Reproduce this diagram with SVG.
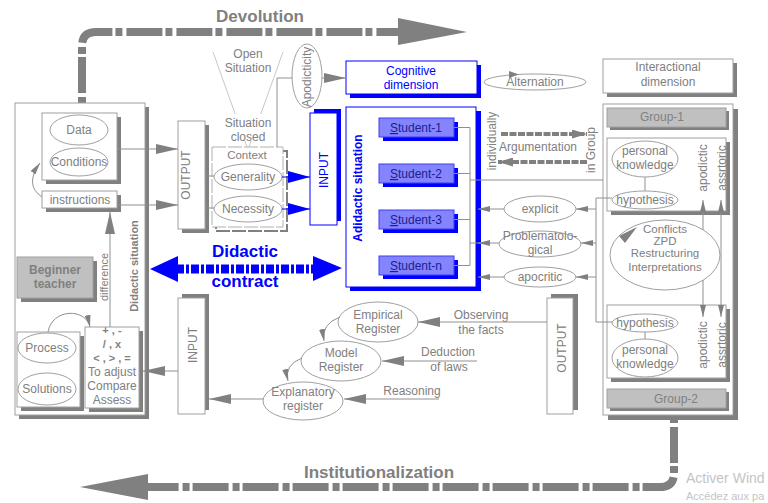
<svg xmlns="http://www.w3.org/2000/svg" width="768" height="503" viewBox="0 0 768 503">
<style>
text{font-family:"Liberation Sans",Arial,sans-serif;font-size:12px;fill:#808080;text-anchor:middle}
.b{font-weight:bold}
.f11{font-size:11px}
.f115{font-size:11.5px}
.f17{font-size:17px}
.bl{fill:#0000ff}
.st{fill:#20208a}
.bx{fill:#fff;stroke:#a0a0a0;stroke-width:1}
.bxb{fill:#fff;stroke:#0000ff;stroke-width:1}
.sh{fill:#808080}
.shb{fill:#0000ff}
.gr{fill:#c0c0c0;stroke:#a0a0a0}
.el{fill:#fff;stroke:#a0a0a0}
.ln{fill:none;stroke:#909090;stroke-width:1}
.lt{fill:none;stroke:#c8c8c8;stroke-width:1}
.big{fill:none;stroke:#808080;stroke-width:8;stroke-dasharray:36 3 7 4}
.stu{fill:#8484ff;stroke:#3c3cff}
.wm{fill:#c4c4c4;text-anchor:start}
</style>
<defs>
<marker id="ah" viewBox="0 0 22 10" refX="22" refY="5" markerWidth="22" markerHeight="10" orient="auto-start-reverse" markerUnits="userSpaceOnUse"><path d="M0,0 L22,5 L0,10z" fill="#808080"/></marker>
<marker id="as" viewBox="0 0 12 6" refX="12" refY="3" markerWidth="12" markerHeight="6" orient="auto-start-reverse" markerUnits="userSpaceOnUse"><path d="M0,0 L12,3 L0,6z" fill="#808080"/></marker>
<marker id="ad" viewBox="0 0 15 9" refX="15" refY="4.5" markerWidth="15" markerHeight="9" orient="auto" markerUnits="userSpaceOnUse"><path d="M0,0 L15,4.5 L0,9z" fill="#808080"/></marker>
<marker id="ab" viewBox="0 0 22 12" refX="22" refY="6" markerWidth="22" markerHeight="12" orient="auto" markerUnits="userSpaceOnUse"><path d="M0,0 L22,6 L0,12z" fill="#0000ff"/></marker>
</defs>

<g id="devolution">
<path d="M82,103 V46 Q82,32 96,32 H400" class="big" stroke-dashoffset="40"/>
<polygon points="398,18 467,32 398,45" fill="#808080"/>
<text x="260" y="22" class="b f17">Devolution</text>
</g>

<g id="institutionalization">
<path d="M674,419 V473 Q674,487 660,487 H146" class="big" stroke-dashoffset="42"/>
<polygon points="148,474 80,487 148,500" fill="#808080"/>
<text x="379" y="478" class="b f17">Institutionalization</text>
</g>

<g id="didactic-situation">
<rect x="19" y="107" width="130" height="312" class="sh"/>
<rect x="15" y="103" width="130" height="312" class="bx"/>
<text transform="translate(138,266) rotate(-90)" class="b f11">Didactic situation</text>
</g>

<g id="data-conditions">
<rect x="46" y="117" width="75" height="67" class="sh"/>
<rect x="42" y="113" width="75" height="67" class="bx"/>
<ellipse cx="79" cy="130" rx="29" ry="15" class="el"/>
<text x="79" y="134">Data</text>
<ellipse cx="79" cy="162" rx="29" ry="14" class="el"/>
<text x="79" y="166">Conditions</text>
</g>

<g id="instructions">
<rect x="46" y="195" width="75" height="17" class="sh"/>
<rect x="42" y="191" width="75" height="17" class="bx"/>
<text x="80" y="204">instructions</text>
</g>

<g id="beginner-teacher">
<rect x="21" y="261" width="76" height="41" class="sh"/>
<rect x="17" y="257" width="76" height="41" class="gr"/>
<text x="55" y="274" class="b">Beginner</text>
<text x="55" y="288" class="b">teacher</text>
</g>

<g id="process-solutions">
<rect x="21" y="336" width="63" height="75" class="sh"/>
<rect x="17" y="332" width="63" height="75" class="bx"/>
<ellipse cx="47" cy="348" rx="29" ry="15" class="el"/>
<text x="47" y="352">Process</text>
<ellipse cx="47" cy="389" rx="29" ry="16" class="el"/>
<text x="47" y="393">Solutions</text>
</g>

<g id="operations">
<rect x="89" y="331" width="54" height="81" class="sh"/>
<rect x="85" y="327" width="54" height="81" class="bx"/>
<text x="112" y="334" class="b f11">+ , -</text>
<text x="112" y="348" class="b f11">/ , x</text>
<text x="112" y="362" class="b f11">&lt; , &gt; , =</text>
<text x="112" y="376">To adjust</text>
<text x="112" y="390">Compare</text>
<text x="112" y="404">Assess</text>
</g>

<g id="output-left">
<rect x="182" y="125" width="27" height="108" class="sh"/>
<rect x="178" y="121" width="27" height="108" class="bx"/>
<text transform="translate(190,175) rotate(-90)">OUTPUT</text>
</g>

<g id="input-left">
<rect x="182" y="294" width="27" height="116" class="sh"/>
<rect x="178" y="298" width="27" height="116" class="bx"/>
<text transform="translate(197,345) rotate(-90)">INPUT</text>
</g>

<g id="situation-cone">
<path d="M213,52 L235.2,114 M244.9,141 L247,147 M283,52 L260.8,114 M251.1,141 L249,147" class="lt"/>
<text x="248" y="58">Open</text>
<text x="248" y="72">Situation</text>
<text x="248" y="127">Situation</text>
<text x="248" y="141">closed</text>
</g>

<g id="context">
<rect x="216" y="151" width="71" height="80" fill="none" stroke="#808080" stroke-width="2" stroke-dasharray="14 2"/>
<rect x="212" y="147" width="71" height="80" fill="#fff" stroke="#b0b0b0" stroke-dasharray="14 2"/>
<text x="247" y="159" class="f115">Context</text>
<ellipse cx="248" cy="177" rx="34" ry="13" class="el"/>
<text x="248" y="181">Generality</text>
<ellipse cx="248" cy="209" rx="34" ry="13" class="el"/>
<text x="248" y="213">Necessity</text>
</g>

<g id="apodicticity">
<ellipse cx="307" cy="76" rx="15" ry="32" class="el"/>
<text transform="translate(311,77) rotate(-90)">Apodicticity</text>
</g>

<g id="input-blue">
<rect x="314" y="109" width="27" height="112" class="shb"/>
<rect x="310" y="113" width="27" height="112" class="bxb"/>
<text transform="translate(328,170) rotate(-90)" class="bl">INPUT</text>
</g>

<g id="cognitive-dimension">
<rect x="350" y="65" width="131" height="33" class="shb"/>
<rect x="346" y="61" width="131" height="33" class="bxb"/>
<text x="411" y="75" class="bl">Cognitive</text>
<text x="411" y="89" class="bl">dimension</text>
</g>

<g id="adidactic-situation">
<rect x="350" y="111" width="131" height="180" class="shb"/>
<rect x="346" y="107" width="130" height="180" class="bxb"/>
<text transform="translate(362,188) rotate(-90)" class="b bl">Adidactic situation</text>
</g>

<g id="student-1">
<rect x="383" y="122" width="75" height="19" class="shb"/>
<rect x="379" y="118" width="75" height="19" class="stu"/>
<text x="416" y="132" class="st"><tspan text-decoration="underline">S</tspan>tudent-1</text>
</g>
<g id="student-2">
<rect x="383" y="168" width="75" height="19" class="shb"/>
<rect x="379" y="164" width="75" height="19" class="stu"/>
<text x="416" y="178" class="st"><tspan text-decoration="underline">S</tspan>tudent-2</text>
</g>
<g id="student-3">
<rect x="383" y="214" width="75" height="19" class="shb"/>
<rect x="379" y="210" width="75" height="19" class="stu"/>
<text x="416" y="224" class="st"><tspan text-decoration="underline">S</tspan>tudent-3</text>
</g>
<g id="student-n">
<rect x="383" y="260" width="75" height="19" class="shb"/>
<rect x="379" y="256" width="75" height="19" class="stu"/>
<text x="416" y="270" class="st"><tspan text-decoration="underline">S</tspan>tudent-n</text>
</g>

<g id="didactic-contract">
<path d="M176,269 H315" stroke="#0000ff" stroke-width="9" stroke-dasharray="8 2 3 2" fill="none"/>
<polygon points="150,269 178,256 178,282" fill="#0000ff"/>
<polygon points="342,268 313,256 313,281" fill="#0000ff"/>
<text x="245" y="257" class="b f17 bl">Didactic</text>
<text x="245" y="287" class="b f17 bl">contract</text>
</g>

<g id="alternation">
<ellipse cx="535" cy="82" rx="51" ry="8" class="el"/>
<polygon points="509,71 519,74.5 509,78" fill="#808080"/>
<text x="535" y="86">Alternation</text>
</g>

<g id="argumentation">
<text transform="translate(496,141) rotate(-90)">individually</text>
<text transform="translate(595,150) rotate(-90)">in Group</text>
<text x="538" y="151">Argumentation</text>
</g>

<g id="interactional-dimension">
<rect x="607" y="63" width="130" height="34" class="sh"/>
<rect x="603" y="59" width="130" height="34" class="bx"/>
<text x="668" y="71">Interactional</text>
<text x="668" y="86">dimension</text>
</g>

<g id="groups">
<rect x="608" y="109" width="130" height="311" class="sh"/>
<rect x="603" y="104" width="130" height="311" class="bx"/>
</g>

<g id="group-1">
<rect x="610" y="111" width="119" height="19" class="sh"/>
<rect x="607" y="108" width="119" height="19" class="gr"/>
<text x="662" y="121">Group-1</text>
<rect x="611" y="142" width="119" height="73" class="sh"/>
<rect x="607" y="138" width="119" height="73" class="bx"/>
<ellipse cx="645" cy="159" rx="33" ry="18" class="el"/>
<text x="645" y="155">personal</text>
<text x="645" y="169">knowledge</text>
<line x1="645" y1="177" x2="645" y2="191" class="ln"/>
<ellipse cx="645" cy="200" rx="33" ry="9" class="el"/>
<text x="645" y="204">hypothesis</text>
<text transform="translate(707,168) rotate(-90)">apodictic</text>
<text transform="translate(726,168) rotate(-90)">assrtoric</text>
</g>

<g id="group-2">
<rect x="611" y="309" width="119" height="73" class="sh"/>
<rect x="607" y="305" width="119" height="73" class="bx"/>
<ellipse cx="645" cy="323" rx="33" ry="9" class="el"/>
<text x="645" y="327">hypothesis</text>
<line x1="645" y1="332" x2="645" y2="339" class="ln"/>
<ellipse cx="645" cy="358" rx="33" ry="19" class="el"/>
<text x="645" y="354">personal</text>
<text x="645" y="368">knowledge</text>
<text transform="translate(707,345) rotate(-90)">apodictic</text>
<text transform="translate(726,345) rotate(-90)">assrtoric</text>
<rect x="610" y="392" width="119" height="19" class="sh"/>
<rect x="607" y="389" width="119" height="19" class="gr"/>
<text x="676" y="403">Group-2</text>
</g>

<g id="conflicts">
<ellipse cx="665" cy="255" rx="55" ry="35" class="el"/>
<polygon points="637,227 619,236 625,243" fill="#808080"/>
<text x="665" y="233" class="f115">Conflicts</text>
<text x="665" y="245" class="f115">ZPD</text>
<text x="665" y="257" class="f115">Restructuring</text>
<text x="665" y="271" class="f115">Interpretations</text>
</g>

<g id="explicit">
<ellipse cx="540" cy="209" rx="36" ry="13" class="el"/>
<text x="540" y="213">explicit</text>
</g>
<g id="problematological">
<ellipse cx="540" cy="244" rx="41" ry="13" class="el"/>
<text x="540" y="240">Problematolo-</text>
<text x="540" y="254">gical</text>
</g>
<g id="apocritic">
<ellipse cx="540" cy="277" rx="36" ry="10" class="el"/>
<text x="540" y="281">apocritic</text>
</g>

<g id="output-right">
<rect x="551" y="294" width="27" height="116" class="sh"/>
<rect x="547" y="298" width="26" height="116" class="bx"/>
<text transform="translate(566,348) rotate(-90)">OUTPUT</text>
</g>

<g id="empirical-register">
<ellipse cx="378" cy="322" rx="40" ry="20" class="el"/>
<text x="378" y="319">Empirical</text>
<text x="378" y="333">Register</text>
</g>
<g id="model-register">
<ellipse cx="341" cy="361" rx="40" ry="20" class="el"/>
<text x="341" y="357">Model</text>
<text x="341" y="371">Register</text>
</g>
<g id="explanatory-register">
<ellipse cx="303" cy="401" rx="40" ry="19" class="el"/>
<text x="303" y="396">Explanatory</text>
<text x="303" y="410">register</text>
</g>

<g id="labels">
<text x="481" y="319">Observing</text>
<text x="481" y="334">the facts</text>
<text x="448" y="356">Deduction</text>
<text x="449" y="371">of laws</text>
<text x="412" y="395">Reasoning</text>
<text transform="translate(108,277) rotate(-90)" class="f11">difference</text>
</g>

<g id="connectors">
<path d="M117,149 H178" class="ln" marker-end="url(#ah)"/>
<path d="M117,205 H178" class="ln" marker-end="url(#ah)"/>
<path d="M42,197 Q24,185 40,163" class="ln" marker-end="url(#as)"/>
<path d="M110,327 V212" class="ln" marker-end="url(#ah)"/>
<path d="M48,332 C52,308 86,308 90,327" class="ln" marker-end="url(#as)"/>
<path d="M178,371 H143" class="ln" marker-end="url(#ah)"/>
<path d="M205,176 H214 M205,208 H214" class="ln"/>
<path d="M282,177 H310" stroke="#0000ff" fill="none" marker-end="url(#ab)"/>
<path d="M282,209 H310" stroke="#0000ff" fill="none" marker-end="url(#ab)"/>
<path d="M277,147 V78 H292" class="ln"/>
<path d="M322,78 H346" class="ln" marker-end="url(#ah)"/>
<path d="M454,127.5 H470 M454,173.5 H470 M454,219.5 H470 M454,265.5 H470 M470,127.5 V265.5 M470,180 H603 M470,243 H481" class="ln"/>
<path d="M501,134 H587" stroke="#808080" stroke-width="4" stroke-dasharray="7 1.5" fill="none" marker-end="url(#ad)"/>
<path d="M587,162 H498" stroke="#808080" stroke-width="4" stroke-dasharray="7 1.5" fill="none" marker-end="url(#ad)"/>
<path d="M612,198 H596 V322 H612" class="ln"/>
<path d="M596,209 H576" class="ln" marker-end="url(#as)"/>
<path d="M504,209 H478" class="ln" marker-end="url(#as)"/>
<path d="M596,243 H581" class="ln" marker-end="url(#as)"/>
<path d="M499,243 H478" class="ln" marker-end="url(#as)"/>
<path d="M596,277 H576" class="ln" marker-end="url(#as)"/>
<path d="M504,277 H478" class="ln" marker-end="url(#as)"/>
<path d="M703,200 V230" class="ln" marker-start="url(#as)"/>
<path d="M703,280 V317" class="ln" marker-end="url(#as)"/>
<path d="M721,200 V317" class="ln" marker-start="url(#as)" marker-end="url(#as)"/>
<path d="M547,322 H418" class="ln" marker-end="url(#ah)"/>
<path d="M477,361 H382" class="ln" marker-end="url(#ah)"/>
<path d="M439,399 H344" class="ln" marker-end="url(#ah)"/>
<path d="M263,399 H209" class="ln" marker-end="url(#ah)"/>
<path d="M340,317 Q321,324 324,341" class="ln" marker-end="url(#as)"/>
<path d="M302,358 Q284,365 288,381" class="ln" marker-end="url(#as)"/>
</g>

<g id="watermark">
<text x="686" y="483" class="wm" style="font-size:14px">Activer Wind</text>
<text x="686" y="500" class="wm" style="font-size:11px">Accédez aux pa</text>
</g>
</svg>
